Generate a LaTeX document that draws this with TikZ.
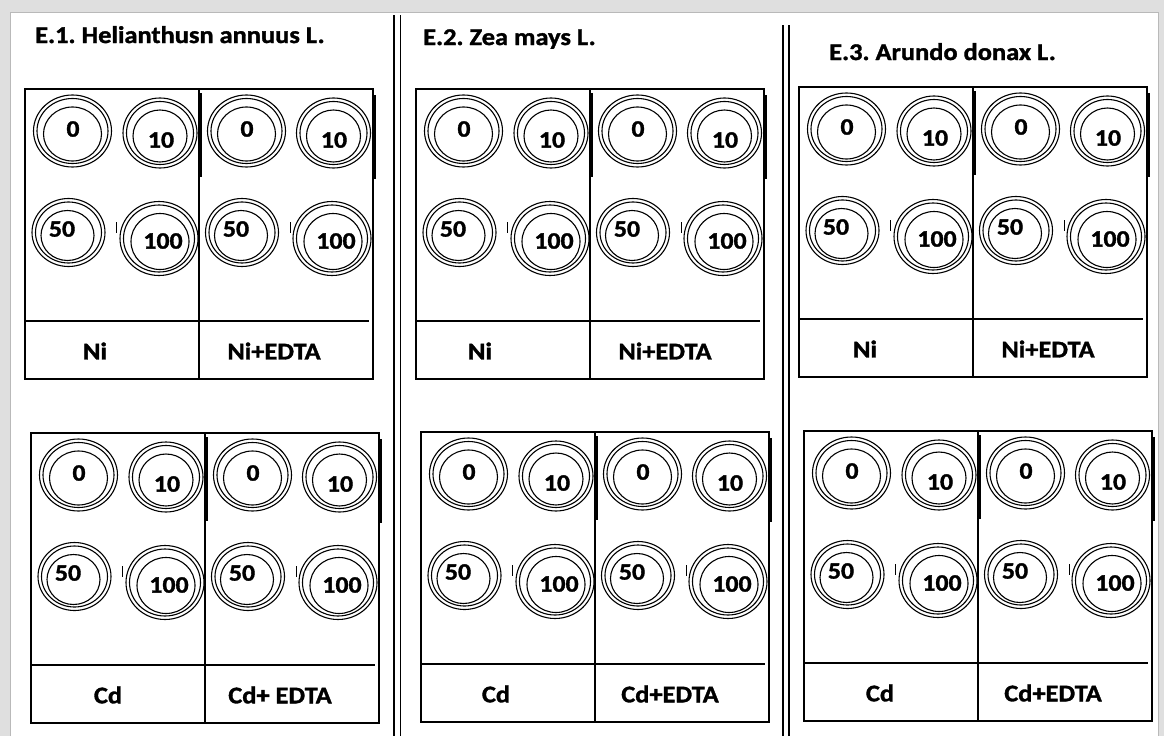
\documentclass[tikz,border=0pt]{standalone}
\usepackage{fontspec}
\setmainfont[FakeStretch=1.1, BoldFeatures={FakeBold=1.4}]{Carlito}
\frenchspacing
\tikzset{
 box/.style={line width=1.2pt},
 thk/.style={line width=2pt},
 ring/.style={line width=1.1pt},
 num/.style={font=\bfseries\fontsize{23.5}{23.5}\selectfont, inner sep=0pt},
 lab/.style={font=\bfseries\fontsize{24}{24}\selectfont, inner sep=0pt},
 ttl/.style={font=\bfseries\fontsize{24}{24}\selectfont, inner sep=0pt, anchor=base west},
 sepline/.style={line width=1.3pt}
}
\newcommand{\well}[8]{%
 \draw[ring] (#2,#3) ellipse [x radius=#4, y radius=#5];
 \draw[ring] (#2,#3) ellipse [x radius=#4-3.5, y radius=#5-3.5];
 \draw[ring] (#2+#8,#3+3) ellipse [x radius=#4-10, y radius=#5-9];
 \node[num] (#1) at (#7) {#6};}
\newcommand{\plate}[6]{%
\begin{scope}[shift={(#2,#3)}]
 \draw[box] (0,0) rectangle (348,290);
 \draw[box] (174,0) -- (174,290);
 \draw[box] (0,232) -- (344,232);
 \draw[thk] (175.5,4) -- (175.5,88);
 \draw[thk] (349.5,6) -- (349.5,90);
 \draw[line width=0.9pt] (91,133) -- (91,144);
 \draw[line width=0.9pt] (265,133) -- (265,144);
 \well{#1w1}{47.5}{42}{39}{36}{0}{48,40}{0}
 \well{#1w2}{135}{44}{37}{35}{10}{136,51}{0}
 \well{#1w3}{221.5}{42}{39}{36}{0}{222,40}{0}
 \well{#1w4}{308.5}{44}{37}{35}{10}{309,51}{0}
 \well{#1w5}{43.5}{143.5}{36.5}{34}{50}{37,140}{-1}
 \well{#1w6}{134}{149.5}{39}{37}{100}{138,152}{1}
 \well{#1w7}{217}{143.5}{36.5}{34}{50}{211,140}{-1}
 \well{#1w8}{307}{149.5}{39}{37}{100}{311,152}{1}
 \node[lab] (#1L) at (#6,262) {#4};
 \node[lab] (#1R) at (249,262) {#5};
\end{scope}}
\begin{document}
\begin{tikzpicture}[x=1pt,y=-1pt]
\useasboundingbox (0,0) rectangle (1164,736);
\fill[gray!25] (0,0) rectangle (1164,736);
\fill[white] (10,12) rectangle (1158,736);
\draw[gray!55, line width=1pt] (10,736) -- (10,12) -- (1158,12) -- (1158,736);
\draw[sepline] (394,15) -- (394,736);
\draw[sepline] (400.5,15) -- (400.5,736);
\draw[sepline] (783,25) -- (783,736);
\draw[sepline] (789,25) -- (789,736);
\node[ttl] (t1) at (35,43) {E.1. Helianthusn annuus L.};
\node[ttl] (t2) at (423,45) {E.2. Zea mays L.};
\node[ttl] (t3) at (829,60) {E.3. Arundo donax L.};
\plate{a}{25}{89}{Ni}{Ni+EDTA}{70}
\plate{b}{416}{89}{Ni}{Ni+EDTA}{64}
\plate{c}{799}{87}{Ni}{Ni+EDTA}{66}
\plate{d}{31}{433}{Cd}{Cd+ EDTA}{77}
\plate{e}{421}{432}{Cd}{Cd+EDTA}{75}
\plate{f}{804}{431}{Cd}{Cd+EDTA}{76}
\end{tikzpicture}
\end{document}
